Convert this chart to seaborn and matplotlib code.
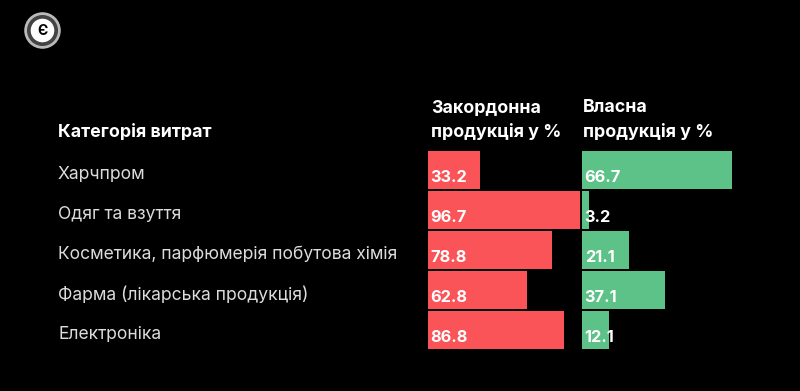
import numpy as np
import pandas as pd
import seaborn as sns
import matplotlib.pyplot as plt
from matplotlib.patches import Circle

# дані з графіка
categories = ['Харчпром', 'Одяг та взуття', 'Косметика, парфюмерія побутова хімія',
              'Фарма (лікарська продукція)', 'Електроніка']
foreign = [33.2, 96.7, 78.8, 62.8, 86.8]
own = [66.7, 3.2, 21.1, 37.1, 12.1]

red = '#FA5459'
green = '#5DC287'

sns.set_theme(style='white')
plt.rcParams['font.family'] = ['Inter', 'DejaVu Sans']

fig = plt.figure(figsize=(8, 3.91), dpi=100, facecolor='black')
W, H = 800, 391

def fx(px):
    return px / W

def fy(px):
    return 1 - px / H

bottom = fy(350)
height = 200 / H
ax_r = fig.add_axes([fx(428), bottom, fx(157), height])
ax_g = fig.add_axes([fx(582), bottom, fx(218), height])

df = pd.DataFrame({'cat': categories, 'foreign': foreign, 'own': own})

sns.barplot(data=df, y='cat', x='foreign', orient='h', color=red, width=0.95,
            saturation=1, linewidth=0, ax=ax_r)
sns.barplot(data=df, y='cat', x='own', orient='h', color=green, width=0.95,
            saturation=1, linewidth=0, ax=ax_g)

ax_r.set_xlim(0, 100)
ax_g.set_xlim(0, 218 / 2.25)

for ax, vals in [(ax_r, foreign), (ax_g, own)]:
    ax.set_facecolor('black')
    ax.set_ylim(len(categories) - 0.5, -0.5)
    ax.set_xlabel('')
    ax.set_ylabel('')
    ax.set_xticks([])
    ax.set_yticks([])
    for s in ax.spines.values():
        s.set_visible(False)
    for i, v in enumerate(vals):
        ax.text(1.2, i + 0.38, f'{v:.1f}', color='white', fontsize=11.8,
                fontweight='bold', va='bottom', ha='left')

# назви категорій
for i, c in enumerate(categories):
    ax_r.text((58 - 428) / 157, i + 0.12, c, color='#dcdcdc', fontsize=12.6,
              va='center', ha='left', transform=ax_r.get_yaxis_transform())

# заголовки
hdr = dict(color='white', fontsize=12.8, fontweight='bold', va='center', ha='left')
fig.text(fx(58), fy(133), 'Категорія витрат', **hdr)
fig.text(fx(431), fy(108), 'Закордонна', **hdr)
fig.text(fx(431), fy(133), 'продукція у %', **hdr)
fig.text(fx(583), fy(108), 'Власна', **hdr)
fig.text(fx(583), fy(133), 'продукція у %', **hdr)

# логотип
logo = fig.add_axes([fx(24), fy(49), fx(37), 37 / H])
logo.set_xlim(-1, 1)
logo.set_ylim(-1, 1)
logo.set_aspect('equal')
logo.axis('off')
logo.add_patch(Circle((0, 0), 0.95, color='#bbbbbb'))
logo.add_patch(Circle((0, 0), 0.8, color='#444444'))
logo.add_patch(Circle((0, 0), 0.6, color='white'))
logo.text(0, -0.05, 'Є', color='black', fontsize=10, fontweight='bold',
          ha='center', va='center')

fig.savefig('out.png', dpi=100, facecolor='black')
